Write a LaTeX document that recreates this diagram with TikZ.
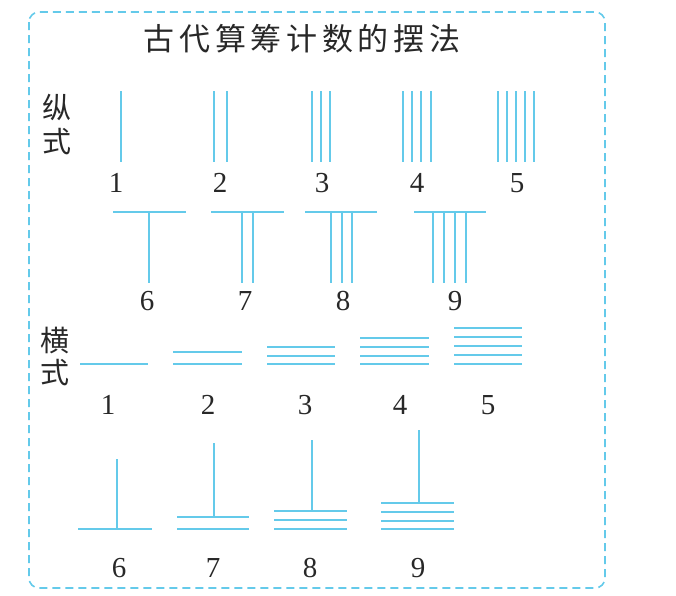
\documentclass[tikz,border=0pt]{standalone}
\usepackage{fontspec}
\setmainfont{Liberation Serif}
\newfontfamily\cjk{Noto Sans CJK SC}
\newfontfamily\cjktitle[LetterSpace=15]{Noto Sans CJK SC}
\definecolor{rod}{RGB}{100,202,234}
\definecolor{ink}{RGB}{40,40,40}
\begin{document}
\begin{tikzpicture}[x=1pt,y=-1pt,
  rodline/.style={draw=rod,line width=2pt},
  digit/.style={inner sep=0pt,text=ink,font=\fontsize{29}{29}\selectfont},
  side/.style={inner sep=0pt,text=ink,font=\cjk\fontsize{29}{29}\selectfont},
  frame/.style={draw=rod,line width=1.6pt,dash pattern=on 8pt off 5pt,rounded corners=10pt}]
\useasboundingbox (0,0) rectangle (676,595);
\draw[frame] (29,12) rectangle (605,588);
\node[inner sep=0pt,text=ink,font=\cjktitle\fontsize{31}{31}\selectfont] (title) at (302,39) {古代算筹计数的摆法};
% side labels
\node[side] (zong) at (57,107) {纵};
\node[side] (shiA) at (57,142) {式};
\node[side] (heng) at (55,340) {横};
\node[side] (shiB) at (55,373) {式};
% vertical style 1-5
\foreach \x in {121, 214,227, 312,321,330, 403,412,421,431, 498,507,516,525,534}
  \draw[rodline] (\x,91) -- (\x,162);
% vertical style 6-9
\draw[rodline] (113,212) -- (186,212);
\draw[rodline] (211,212) -- (284,212);
\draw[rodline] (305,212) -- (377,212);
\draw[rodline] (414,212) -- (486,212);
\foreach \x in {149, 242,253, 331,342,352, 433,444,455,466}
  \draw[rodline] (\x,212) -- (\x,283);
% horizontal style 1-5
\foreach \y in {364} \draw[rodline] (80,\y) -- (148,\y);
\foreach \y in {352,364} \draw[rodline] (173,\y) -- (242,\y);
\foreach \y in {347,356,364} \draw[rodline] (267,\y) -- (335,\y);
\foreach \y in {338,347,356,364} \draw[rodline] (360,\y) -- (429,\y);
\foreach \y in {328,337,346,355,364} \draw[rodline] (454,\y) -- (522,\y);
% horizontal style 6-9
\draw[rodline] (78,529) -- (152,529);
\draw[rodline] (117,459) -- (117,529);
\foreach \y in {517,529} \draw[rodline] (177,\y) -- (249,\y);
\draw[rodline] (214,443) -- (214,517);
\foreach \y in {511,520,529} \draw[rodline] (274,\y) -- (347,\y);
\draw[rodline] (312,440) -- (312,511);
\foreach \y in {503,512,521,529} \draw[rodline] (381,\y) -- (454,\y);
\draw[rodline] (419,430) -- (419,503);
% digits
\node[digit] (v1) at (116,183) {1};
\node[digit] (v2) at (220,183) {2};
\node[digit] (v3) at (322,183) {3};
\node[digit] (v4) at (417,183) {4};
\node[digit] (v5) at (517,183) {5};
\node[digit] (v6) at (147,301) {6};
\node[digit] (v7) at (245,301) {7};
\node[digit] (v8) at (343,301) {8};
\node[digit] (v9) at (455,301) {9};
\node[digit] (h1) at (108,405) {1};
\node[digit] (h2) at (208,405) {2};
\node[digit] (h3) at (305,405) {3};
\node[digit] (h4) at (400,405) {4};
\node[digit] (h5) at (488,405) {5};
\node[digit] (h6) at (119,568) {6};
\node[digit] (h7) at (213,568) {7};
\node[digit] (h8) at (310,568) {8};
\node[digit] (h9) at (418,568) {9};
\end{tikzpicture}
\end{document}
